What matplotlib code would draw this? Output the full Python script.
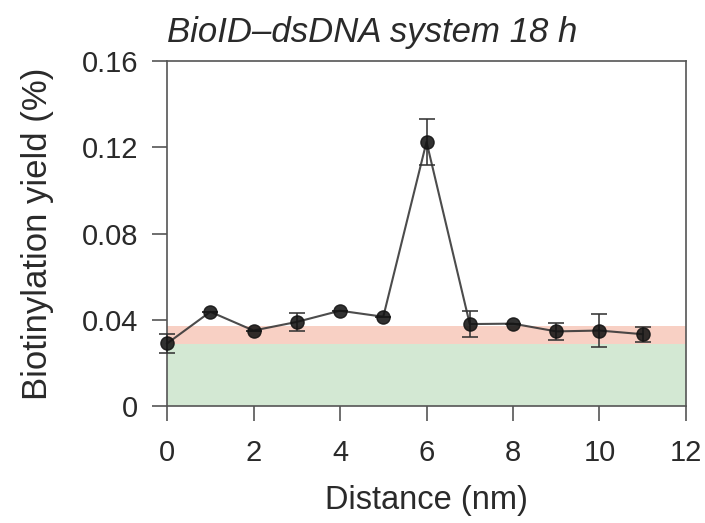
import numpy as np
import matplotlib
matplotlib.use('Agg')
import matplotlib.pyplot as plt

plt.rcParams['font.family'] = ['Liberation Sans', 'DejaVu Sans']

# data
distance = [0, 1, 2, 3, 4, 5, 6, 7, 8, 9, 10, 11]
yield_pct = [0.0290, 0.0437, 0.0350, 0.0390, 0.0442, 0.0414, 0.1225, 0.0380, 0.0382, 0.0346, 0.0350, 0.0333]
yield_err = [0.0045, 0.0, 0.0, 0.0040, 0.0, 0.0, 0.0105, 0.0060, 0.0, 0.0040, 0.0078, 0.0035]
green_band = [0, 0.0288]
red_band = [0.0288, 0.0372]

fig = plt.figure(figsize=(7.05, 5.23), dpi=100)
ax = fig.add_axes([0.237, 0.2237, 0.736, 0.6596])

# background bands
ax.axhspan(green_band[0], green_band[1], color='#d3e8d3', lw=0, zorder=0)
ax.axhspan(red_band[0], red_band[1], color='#f8d0c4', lw=0, zorder=0)

ax.errorbar(distance, yield_pct, yerr=yield_err, fmt='o-', color='#333333',
            mfc='#141414', mec='#141414', ms=9.5, lw=1.5, ecolor='#333333',
            elinewidth=1.3, capsize=5.5, capthick=1.3, alpha=0.88, zorder=3,
            clip_on=False)

ax.set_xlim(0, 12)
ax.set_ylim(0, 0.16)
ax.set_xticks(range(0, 13, 2))
ax.set_yticks([0, 0.04, 0.08, 0.12, 0.16])
ax.set_yticklabels(['0', '0.04', '0.08', '0.12', '0.16'])

for s in ax.spines.values():
    s.set_color('#555555')
    s.set_linewidth(1.2)
ax.tick_params(axis='both', direction='out', length=11, width=1.2,
               color='#555555', labelsize=21, labelcolor='#2a2a2a')
ax.tick_params(axis='y', pad=10)
ax.tick_params(axis='x', pad=13)

ax.set_xlabel('Distance (nm)', fontsize=23.5, color='#2a2a2a', labelpad=13)
ax.set_ylabel('Biotinylation yield (%)', fontsize=25, color='#2a2a2a', labelpad=20)
ax.set_title('BioID\u2013dsDNA system 18 h', fontsize=25, style='italic',
             color='#2a2a2a', loc='left', pad=14)

fig.savefig('out.png', dpi=100)
